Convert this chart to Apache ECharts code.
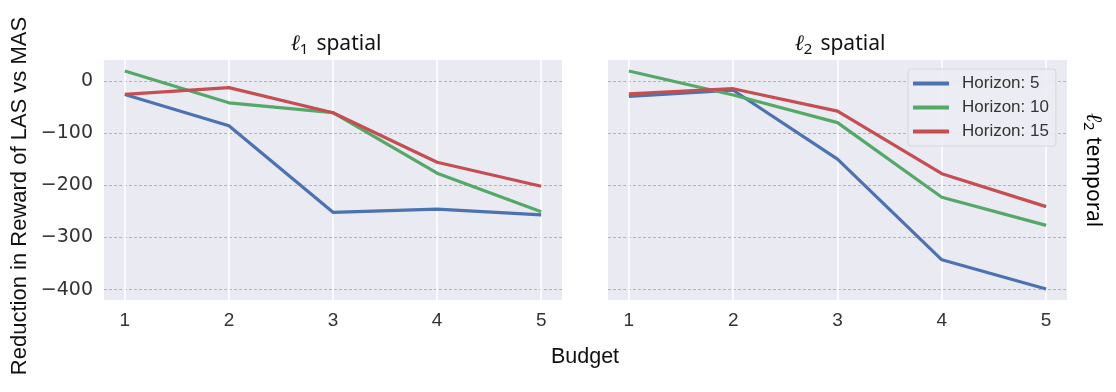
<!DOCTYPE html>
<html>
<head>
<meta charset="utf-8">
<script src="https://cdn.jsdelivr.net/npm/echarts@6/dist/echarts.min.js"></script>
<style>
  html, body { margin: 0; padding: 0; background: #fff; }
  #chart { width: 1116px; height: 392px; }
</style>
</head>
<body>
<div id="chart"></div>
<script>
// budgets on the x axis
const budgets = [1, 2, 3, 4, 5];
const seriesNames = ['Horizon: 5', 'Horizon: 10', 'Horizon: 15'];
const colors = ['#4c72b0', '#55a868', '#c44e52'];

// l1 spatial panel
const l1Horizon5 = [-26, -86, -252, -246, -257];
const l1Horizon10 = [19, -42, -61, -177, -251];
const l1Horizon15 = [-26, -13, -61, -156, -202];

// l2 spatial panel
const l2Horizon5 = [-30, -18, -150, -343, -399];
const l2Horizon10 = [19, -27, -80, -223, -277];
const l2Horizon15 = [-25, -15, -58, -178, -241];

const yTicks = [-400, -300, -200, -100, 0];

const panels = [
  [l1Horizon5, l1Horizon10, l1Horizon15],
  [l2Horizon5, l2Horizon10, l2Horizon15]
];

const chart = echarts.init(document.getElementById('chart'));

const grids = [
  { left: 104, top: 60, width: 458, height: 240 },
  { left: 608, top: 60, width: 459, height: 240 }
].map(g => Object.assign(g, { backgroundColor: '#eaeaf2', show: true, borderWidth: 0 }));

const xAxes = grids.map((g, i) => ({
  type: 'value',
  gridIndex: i,
  min: 0.8,
  max: 5.2,
  axisLine: { show: false },
  axisTick: { show: false, customValues: budgets },
  axisLabel: { customValues: budgets, color: '#333', fontSize: 19, margin: 11, fontFamily: 'Liberation Sans' },
  splitLine: { show: true, lineStyle: { color: '#ffffff', width: 1.5 } }
}));

const yAxes = grids.map((g, i) => ({
  type: 'value',
  gridIndex: i,
  min: -420,
  max: 40,
  axisLine: { show: false },
  axisTick: { show: false, customValues: yTicks },
  axisLabel: {
    show: i === 0,
    customValues: yTicks,
    color: '#333', fontSize: 19, margin: 11, fontFamily: 'DejaVu Sans',
    formatter: v => (v < 0 ? '\u2212' + Math.abs(v) : String(v))
  },
  splitLine: { show: true, lineStyle: { color: '#b4b4b8', width: 1, type: [3, 2] } }
}));

const series = [];
panels.forEach((lines, p) => {
  lines.forEach((vals, k) => {
    series.push({
      name: seriesNames[k],
      type: 'line',
      xAxisIndex: p,
      yAxisIndex: p,
      data: budgets.map((b, j) => [b, vals[j]]),
      symbol: 'none',
      lineStyle: { color: colors[k], width: 3.2 },
      itemStyle: { color: colors[k] },
      emphasis: { disabled: true },
      z: 3 + k
    });
  });
});

const titleRich = {
  l: { fontFamily: 'DejaVu Serif', fontStyle: 'italic', fontWeight: 'normal', fontSize: 22, color: '#111' },
  sub: { fontFamily: 'Noto Sans', fontWeight: 'normal', fontSize: 15, color: '#111', padding: [10, 3, 0, 0] },
  t: { fontFamily: 'Noto Sans', fontWeight: 'normal', fontSize: 21, color: '#111' }
};

chart.setOption({
  animation: false,
  grid: grids,
  xAxis: xAxes,
  yAxis: yAxes,
  series: series,
  title: [
    { text: '{l|ℓ}{sub|1} {t|spatial}', left: 331, top: 27, textAlign: 'center', textStyle: { fontWeight: 'normal', rich: titleRich } },
    { text: '{l|ℓ}{sub|2} {t|spatial}', left: 835, top: 27, textAlign: 'center', textStyle: { fontWeight: 'normal', rich: titleRich } }
  ],
  legend: {
    data: seriesNames,
    orient: 'vertical',
    left: 908,
    top: 69,
    icon: 'rect',
    itemWidth: 36,
    itemHeight: 4,
    itemGap: 7,
    padding: [6, 7, 6, 5],
    backgroundColor: 'rgba(236,236,244,0.9)',
    borderColor: '#d6d6de',
    borderWidth: 1,
    borderRadius: 3,
    textStyle: { fontSize: 17, color: '#333', fontFamily: 'Liberation Sans', padding: [0, 0, 0, 8] }
  },
  graphic: [
    {
      type: 'text', x: 20, y: 196, rotation: Math.PI / 2,
      style: { text: 'Reduction in Reward of LAS vs MAS', fontSize: 22, fontFamily: 'Liberation Sans', fill: '#111', align: 'center', verticalAlign: 'middle' }
    },
    {
      type: 'text', x: 585, y: 357,
      style: { text: 'Budget', fontSize: 21.5, fontFamily: 'Liberation Sans', fill: '#111', align: 'center', verticalAlign: 'middle' }
    },
    {
      type: 'text', x: 1093, y: 170, rotation: -Math.PI / 2,
      style: {
        text: '{l|ℓ}{sub|2} {t|temporal}', align: 'center', verticalAlign: 'middle',
        rich: titleRich
      }
    }
  ]
});
</script>
</body>
</html>
